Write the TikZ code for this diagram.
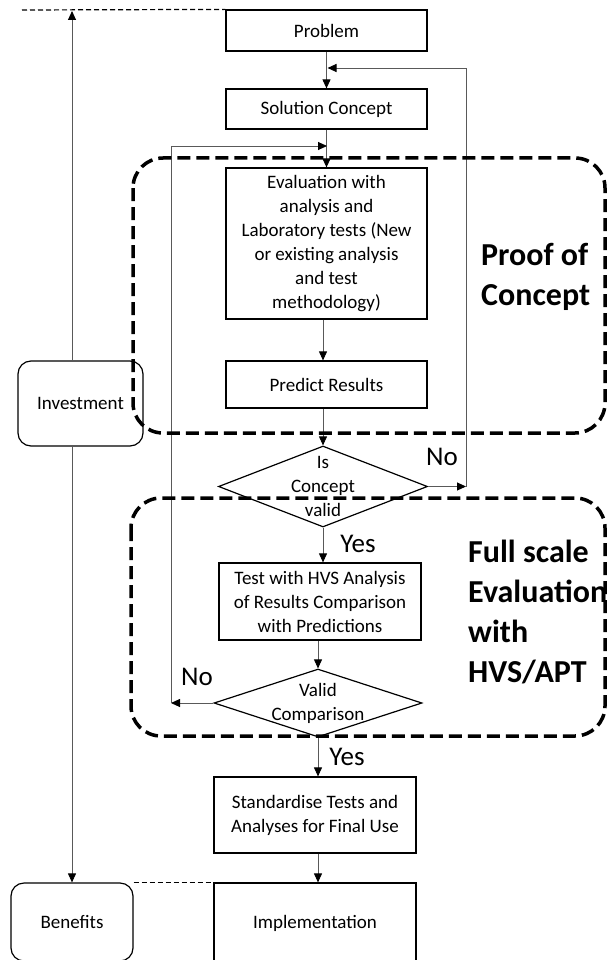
\documentclass[tikz,border=0pt]{standalone}
\usepackage{fontspec}
\setmainfont{Carlito}
\usetikzlibrary{arrows.meta,shapes.geometric}

\begin{document}
\begin{tikzpicture}[x=1pt,y=-1pt,
  font=\fontsize{19}{24}\selectfont,
  >={Triangle[length=9pt,width=8pt,color=black]},
  box/.style={draw,line width=1.2pt,inner sep=0pt,align=center},
  rbox/.style={box,rounded corners=13pt},
  dia/.style={draw,diamond,line width=1.2pt,inner sep=0pt},
  flow/.style={->,line width=0.9pt,draw=black!65},
  link/.style={line width=1.2pt,dash pattern=on 5pt off 3pt},
  region/.style={line width=3.5pt,dash pattern=on 13pt off 6pt,rounded corners=30pt},
  answer/.style={inner sep=0pt,font=\fontsize{27}{30}\selectfont},
  title/.style={inner sep=0pt,anchor=west,align=left,font=\fontsize{32}{40}\selectfont\bfseries}]
			\useasboundingbox (0,0) rectangle (607,960);
			\clip (0,0) rectangle (607,960);

			\node[box,minimum width=201pt,minimum height=41pt] (prob) at (326.5,30.5) {Problem};
			\node[box,minimum width=201pt,minimum height=40pt] (sol) at (326.5,109) {Solution Concept};
			\node[box,minimum width=201pt,minimum height=151pt] (eval) at (326.5,243.5) {Evaluation with\\analysis and\\Laboratory tests (New\\or existing analysis\\and test\\methodology)};
			\node[box,minimum width=201pt,minimum height=47pt] (pred) at (326.5,384.5) {Predict Results};

			\node[dia,minimum width=209pt,minimum height=81pt] (dia1) at (323,486.5) {};
			\node[align=center,inner sep=0pt] (dia1txt) at (dia1) {Is\\Concept\\valid};

			\node[box,minimum width=202pt,minimum height=77pt] (test) at (320,601.5) {Test with HVS Analysis\\of Results Comparison\\with Predictions};

			\node[dia,minimum width=208pt,minimum height=68pt] (dia2) at (318,703) {};
			\node[align=center,inner sep=0pt] (dia2txt) at (dia2) {Valid\\Comparison};

			\node[box,minimum width=202pt,minimum height=76pt] (std) at (315,815) {Standardise Tests and\\Analyses for Final Use};
			\node[box,minimum width=202pt,minimum height=80pt] (impl) at (315,923) {Implementation};

			\node[rbox,minimum width=125pt,minimum height=85pt] (invest) at (80.5,403.5) {Investment};
			\node[rbox,minimum width=122pt,minimum height=78pt] (benef) at (72,922) {Benefits};

			\coordinate (invtop) at (72,11);
			\coordinate (dstart) at (22,10);
			\coordinate (noR) at (466,486.5);
			\coordinate (fbR) at (327.5,68);
			\coordinate (noL) at (171,703);
			\coordinate (fbL) at (327,146);

			\draw[flow] (prob) -- (sol);
			\draw[flow] (sol) -- (eval);
			\draw[flow] (eval.south -| dia1.north) -- (pred.north -| dia1.north);
			\draw[flow] (pred.south -| dia1.north) -- (dia1.north);
			\draw[flow] (dia1.south) -- (test.north -| dia1.south);
			\draw[flow] (test.south -| dia2.north) -- (dia2.north);
			\draw[flow] (dia2.south) -- (std.north -| dia2.south);
			\draw[flow] (std.south -| dia2.south) -- (impl.north -| dia2.south);

			\draw[flow] (dia1.east) -- (noR);
			\draw[flow] (noR) |- (fbR);
			\draw[flow] (dia2.west) -- (noL);
			\draw[flow] (noL) |- (fbL);

			\draw[flow] (invest.north -| benef.north) -- (invtop);
			\draw[flow] (invest.south -| benef.north) -- (benef.north);
			\draw[link] (dstart) -- (prob.north west);
			\draw[link] (benef.north east) -- (impl.north west);

			\node[answer] (noRlab) at (442,457) {No};
			\node[answer] (yes1) at (358,544) {Yes};
			\node[answer] (noLlab) at (197,677) {No};
			\node[answer] (yes2) at (347,757) {Yes};

			\node[title] (poctitle) at (481,276.5) {Proof of\\Concept};
			\node[title] (fsetitle) at (468,612) {Full scale\\Evaluation\\with\\HVS/APT};

			\draw[region] (133,158) rectangle (605,433);
			\draw[region] (131,498) rectangle (605,736);
		\end{tikzpicture}
\end{document}
